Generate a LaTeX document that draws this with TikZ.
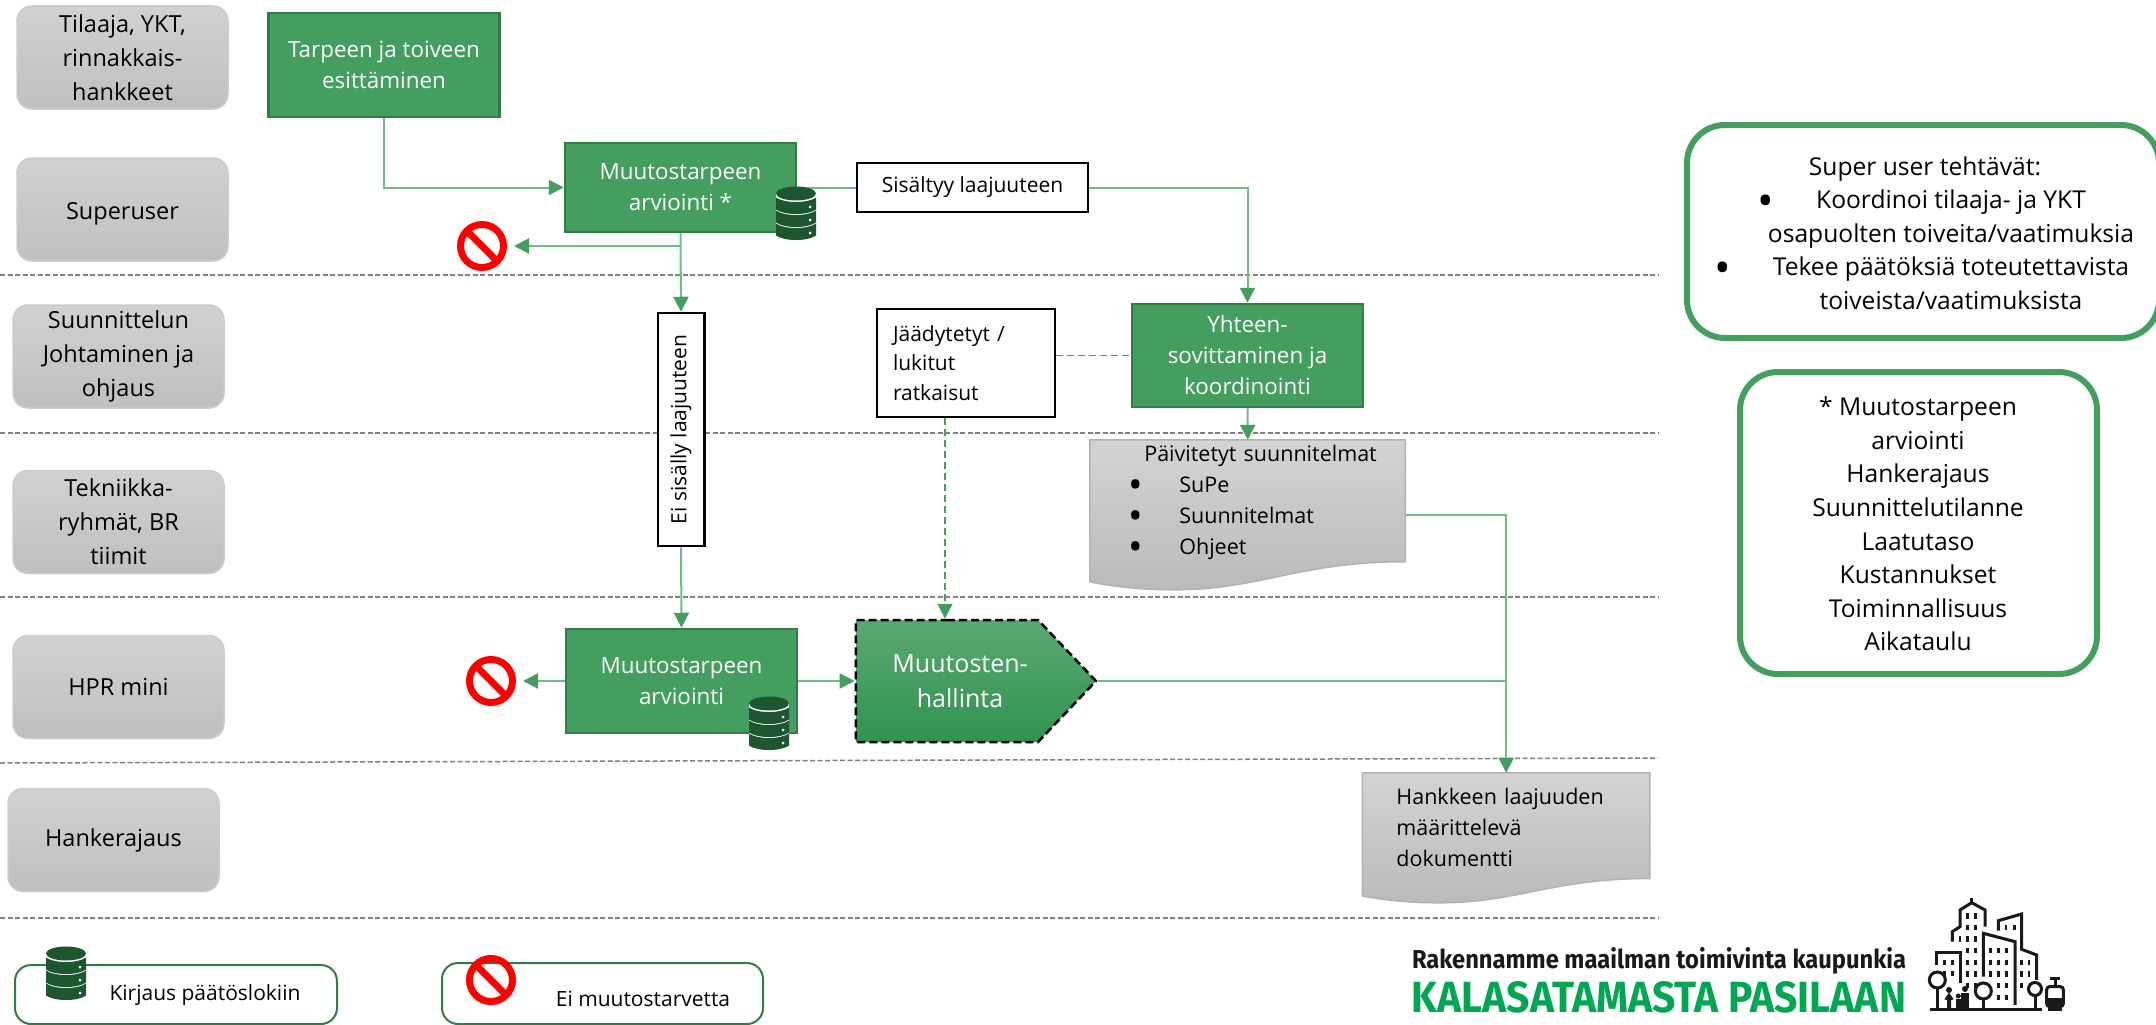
\documentclass[tikz,border=0pt]{standalone}
\usepackage{fontspec}
\setmainfont{Open Sans}
\newfontfamily\logofont{Fira Sans}
\usetikzlibrary{arrows.meta,backgrounds,calc,shapes.symbols}
\definecolor{procgreen}{HTML}{439E5F}
\definecolor{procedge}{HTML}{357A4A}
\definecolor{signaltop}{HTML}{5CA872}
\definecolor{signalbottom}{HTML}{2F9350}
\definecolor{linkgreen}{HTML}{72B98B}
\definecolor{dbgreen}{HTML}{1F5632}
\definecolor{logogreen}{HTML}{00A651}
\newcommand{\bigbul}{\smash{\raisebox{-0.3em}{\scalebox{1.8}{\textbullet}}}}
\newcommand{\bul}{\hspace*{28pt}\makebox[51pt][l]{\bigbul}}
\newcommand{\docshape}[3]{\shade[top color=black!17,bottom color=black!27,draw=black!30,line width=1.5pt,shift={(#1.north west)},x=#2pt,y=-#3pt] (0,0) -- (1,0) -- (1,.813) .. controls (.66,.813) and (.54,1) .. (.27,1) .. controls (.16,1) and (.08,.98) .. (0,.947) -- cycle;}
\tikzset{
  lanebox/.style={rectangle,rounded corners=15pt,top color=black!18,bottom color=black!25,draw=black!20,line width=1.5pt,minimum width=211pt,minimum height=103pt,inner sep=0pt,align=center,font=\fontsize{23.5}{34}\selectfont},
  procbox/.style={rectangle,fill=procgreen,draw=procedge,line width=2.5pt,minimum width=231pt,minimum height=104pt,inner sep=0pt,align=center,text=white,font=\fontsize{22.4}{31}\selectfont},
  whitebox/.style={rectangle,fill=white,draw=black,line width=2.5pt,inner sep=0pt,font=\fontsize{21}{29.5}\selectfont},
  docbox/.style={rectangle,inner sep=0pt,align=left,font=\fontsize{21.5}{31}\selectfont},
  conn/.style={draw=linkgreen,line width=2pt,-{Triangle[length=15pt,width=15pt,color=procgreen]}},
  plainconn/.style={draw=linkgreen,line width=2pt},
  dashconn/.style={draw=procgreen,line width=1.5pt,dash pattern=on 7pt off 4pt},
  lanesep/.style={draw=black!50,line width=1.5pt,dash pattern=on 5pt off 2.5pt},
  infoline/.style={draw=procgreen,line width=6pt,rounded corners=38pt},
  infotext/.style={inner sep=0pt,align=center,font=\fontsize{24.6}{33.6}\selectfont},
  legendline/.style={draw=procedge,line width=2pt,rounded corners=16pt},
  legendtext/.style={inner sep=0pt,font=\fontsize{21}{29}\selectfont},
  nosign/.style={circle,draw=red,line width=7pt,inner sep=0pt,minimum size=43pt,path picture={\draw[red,line width=7pt] (path picture bounding box.north west) -- (path picture bounding box.south east);}},
  dbicon/.pic={
    \fill[white] (-20,-21) rectangle (20,20);
    \fill[dbgreen] (0,-20.5) ellipse [x radius=20pt,y radius=7pt];
    \foreach \b in {-16.5,-3.5,9.5} {
      \fill[dbgreen] (-20,\b) -- (-20,\b+12) .. controls (-12,\b+18) and (12,\b+18) .. (20,\b+12) -- (20,\b) .. controls (12,\b+6) and (-12,\b+6) .. (-20,\b) -- cycle;
      \fill[white] (14,\b+9.5) circle (1.5pt);
    }
  },
  citypen/.style={draw=black!90,line width=3pt},
  windowpen/.style={draw=black!90,line width=2.4pt}
}
\begin{document}
\begin{tikzpicture}[x=1pt,y=-1pt]
\useasboundingbox (0,0) rectangle (2156,1025);
\clip (0,0) rectangle (2156,1025);
\draw[lanesep] (0,275) -- (1658,275);
\draw[lanesep] (0,433) -- (1658,433);
\draw[lanesep] (0,597) -- (1658,597);
\draw[lanesep] (0,763) -- (1658,758);
\draw[lanesep] (0,918) -- (1658,918);
\node (tilaaja) at (122.5,57.5) [lanebox] {Tilaaja, YKT,\\rinnakkais-\\hankkeet};
\node (superuser) at (122.5,209.5) [lanebox] {\rule{0pt}{25pt}Superuser};
\node (johtaminen) at (118.5,356.5) [lanebox] {Suunnittelun\\Johtaminen ja\\ohjaus};
\node (tekniikka) at (118.5,522) [lanebox] {Tekniikka-\\ryhmät, BR\\tiimit};
\node (hprmini) at (118.5,687) [lanebox] {HPR mini};
\node (hankerajaus) at (113.5,840) [lanebox] {Hankerajaus};
\node (tarve) at (384,65) [procbox] {Tarpeen ja toiveen\\esittäminen};
\node (arvio) at (680.5,187.5) [procbox,minimum height=89pt] {Muutostarpeen\\arviointi *};
\node (sisaltyy) at (972.5,187.5) [whitebox,minimum width=231pt,minimum height=49pt] {Sisältyy laajuuteen};
\node (eisisally) at (681,429.5) [whitebox,rotate=90,minimum width=233pt,minimum height=46.5pt] {Ei sisälly laajuuteen};
\node (jaadytetyt) at (966,363) [whitebox,minimum width=178pt,minimum height=108pt,text width=146pt,align=left] {Jäädytetyt /\\lukitut\\ratkaisut};
\node (yhteen) at (1247.5,355.5) [procbox,minimum height=103pt] {Yhteen-\\sovittaminen ja\\koordinointi};
\node (arvio2) at (681.5,681) [procbox] {Muutostarpeen\\arviointi};
\node (muutosten) at (947,681) [signal,signal to=east,signal pointer angle=93,top color=signaltop,bottom color=signalbottom,draw=black,line width=2.5pt,dash pattern=on 8pt off 4pt,minimum width=240pt,minimum height=122pt,inner sep=0pt,align=center,text=white,font=\fontsize{25}{35}\selectfont] {\hspace*{26pt}Muutosten-\\\hspace*{26pt}hallinta};
\node (paivitetyt) at (1247.8,515) [docbox,minimum width=315.6pt,minimum height=150pt,text width=295pt] {\hspace*{44pt}Päivitetyt suunnitelmat\\\bul SuPe\\\bul Suunnitelmat\\\bul Ohjeet\\\mbox{}};
\node (hankkeen) at (1506.2,838) [docbox,minimum width=287.5pt,minimum height=130pt,text width=219.5pt] {Hankkeen laajuuden\\määrittelevä\\dokumentti\\[-9pt]\mbox{}};
\begin{scope}[on background layer]
\docshape{paivitetyt}{315.6}{150}
\docshape{hankkeen}{287.5}{130}
\end{scope}
\node (no1) at (482,246) [nosign] {};
\node (no2) at (491,681) [nosign] {};
\draw[conn] (tarve.south) |- (arvio.west);
\draw[plainconn] (arvio.east) -- (sisaltyy.west);
\draw[conn] (sisaltyy.east) -| (yhteen.north);
\draw[conn,shorten >=7pt] (arvio.south |- no1.east) -- (no1.east);
\draw[conn] (arvio.south) -- (eisisally.east);
\draw[conn] (eisisally.west) -- (arvio2.north);
\draw[conn,shorten >=7pt] (arvio2.west) -- (no2.east);
\draw[conn] (arvio2.east) -- (muutosten.west);
\draw[dashconn] (jaadytetyt.east |- yhteen.west) -- (yhteen.west);
\draw[dashconn,-{Triangle[length=15pt,width=15pt,color=procgreen]}] ([xshift=-21pt]jaadytetyt.south) -- ([xshift=-21pt]jaadytetyt.south |- muutosten.north);
\draw[conn] (yhteen.south) -- (paivitetyt.north);
\draw[conn] (paivitetyt.east) -| (hankkeen.north);
\draw[plainconn] (muutosten.east) -- (hankkeen.north |- muutosten.east);
\pic at (796,214) {dbicon};
\pic at (769,724) {dbicon};
\draw[infoline] (1687,125) rectangle (2159,338);
\node (tehtavat) at (1951,233) [infotext] {Super user tehtävät:\hspace*{52pt}\\\llap{\bigbul\hspace{42pt}}Koordinoi tilaaja- ja YKT\\osapuolten toiveita/vaatimuksia\\\llap{\bigbul\hspace{42pt}}Tekee päätöksiä toteutettavista\\toiveista/vaatimuksista};
\draw[infoline] (1740,372) rectangle (2097,674);
\node (kriteerit) at (1918,524) [infotext] {* Muutostarpeen\\arviointi\\Hankerajaus\\Suunnittelutilanne\\Laatutaso\\Kustannukset\\Toiminnallisuus\\Aikataulu};
\draw[legendline] (15,965) rectangle (337,1024);
\node (kirjaus) at (205,995) [legendtext] {Kirjaus päätöslokiin};
\pic at (66,974) {dbicon};
\draw[legendline] (442,963) rectangle (763,1024);
\node (eimuutos) at (643,999) [legendtext] {Ei muutostarvetta};
\node (no3) at (491,980) [nosign] {};
\node (slogan) at (1659,961) [inner sep=0pt,text=black!90] {\resizebox{494pt}{21pt}{\logofont\bfseries Rakennamme maailman toimivinta kaupunkia}};
\node (kalasatama) at (1659,997) [inner sep=0pt,text=logogreen] {\resizebox{494pt}{31pt}{\logofont\bfseries KALASATAMASTA PASILAAN}};
\begin{scope}[shift={(1925,890)},x=.3333pt,y=-.3333pt]
\draw[citypen] (15,358) -- (350,358);
\draw[citypen] (140,25) -- (140,38);
\draw[citypen] (82,155) -- (82,125) -- (105,110) -- (105,60) -- (140,38) -- (180,60) -- (180,110);
\draw[citypen] (35,225) -- (35,188) -- (105,188) -- (105,280);
\draw[citypen] (220,122) -- (220,92) -- (290,72) -- (290,178) -- (335,195) -- (335,270);
\draw[citypen] (175,260) -- (175,130) -- (270,155) -- (270,345);
\foreach \wx in {127,152} \foreach \wy in {78,113,147,182,217,252,287} \draw[windowpen] (\wx,\wy-8) -- (\wx,\wy+8);
\foreach \wx in {197,220,245} \foreach \wy in {182,217,252} \draw[windowpen] (\wx,\wy-8) -- (\wx,\wy+8);
\foreach \wx in {220,245} \foreach \wy in {287,322} \draw[windowpen] (\wx,\wy-8) -- (\wx,\wy+8);
\foreach \wx in {58,82} \foreach \wy in {217,250} \draw[windowpen] (\wx,\wy-8) -- (\wx,\wy+8);
\foreach \wx in {290,312} \foreach \wy in {217,252} \draw[windowpen] (\wx,\wy-8) -- (\wx,\wy+8);
\foreach \wx/\wy in {243/113,268/113,105/147,290/287} \draw[windowpen] (\wx,\wy-8) -- (\wx,\wy+8);
\draw[citypen] (37,270) circle (8pt);
\draw[citypen] (37,294) -- (37,358);
\draw[citypen] (175,303) circle (8pt);
\draw[citypen] (175,327) -- (175,358);
\draw[citypen] (330,297) circle (6.5pt);
\draw[citypen] (330,317) -- (330,358);
\fill[black!90] (72,300) circle (3pt);
\fill[black!90] (58,328) -- (72,308) -- (86,328) -- (78,330) -- (78,358) -- (66,358) -- (66,330) -- cycle;
\fill[black!90] (120,297) circle (3pt);
\fill[black!90] (108,308) rectangle (133,358);
\fill[black!90] (100,318) circle (2.5pt);
\fill[black!90] (93,328) rectangle (108,358);
\draw[citypen,rounded corners=3pt] (365,290) rectangle (415,350);
\draw[citypen] (375,265) -- (405,265);
\draw[citypen] (390,265) -- (390,290);
\fill[black!90] (365,325) rectangle (415,350);
\draw[citypen] (370,358) -- (410,358);
\end{scope}
\end{tikzpicture}
\end{document}
